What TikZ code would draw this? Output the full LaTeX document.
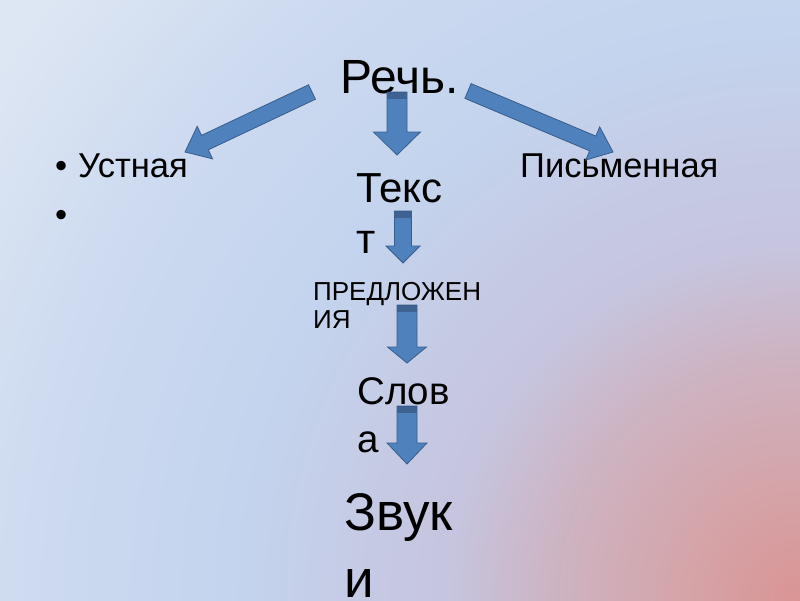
\documentclass[tikz,border=0pt]{standalone}
\usepackage{fontspec}
\setmainfont{Liberation Sans}
\usetikzlibrary{calc}
\definecolor{bgpink}{RGB}{218,148,148}
\definecolor{bgrose}{RGB}{212,165,170}
\definecolor{bgmauve}{RGB}{205,180,195}
\definecolor{bglilac}{RGB}{198,196,222}
\definecolor{bgblue}{RGB}{196,212,238}
\definecolor{bgpale}{RGB}{205,218,240}
\definecolor{bglight}{RGB}{221,230,243}
\definecolor{arrowfill}{RGB}{79,129,189}
\definecolor{arrowline}{RGB}{56,93,138}
\definecolor{arrowtop}{RGB}{62,98,145}
% 25bp is the radius of the shaded circle
\pgfdeclareradialshading{slidebg}{\pgfpoint{0bp}{0bp}}{%
  color(0bp)=(bgpink); color(3.1bp)=(bgrose); color(6.25bp)=(bgmauve);
  color(8.75bp)=(bglilac); color(14.25bp)=(bgblue); color(19.25bp)=(bgpale);
  color(24bp)=(bglight); color(50bp)=(bglight)}
% block arrow from tail to tip: #1 tail, #2 tip, #3 half shaft, #4 half head, #5 head length
\newcommand{\blockarrow}[5]{%
  \coordinate (#1-h) at ($(#2)!#5!(#1)$);
  \filldraw[barrow] ($(#1)!#3!90:(#2)$) -- ($(#1-h)!#3!90:(#2)$)
    -- ($(#1-h)!#4!90:(#2)$) -- (#2) -- ($(#1-h)!#4!-90:(#2)$)
    -- ($(#1-h)!#3!-90:(#2)$) -- ($(#1)!#3!-90:(#2)$) -- cycle;
}
% darker band at the top of a down arrow
\newcommand{\arrowband}[3]{%
  \coordinate (#1-c) at ($(#1)!7pt!(#2)$);
  \fill[arrowtop] ($(#1)!#3!90:(#2)$) -- ($(#1-c)!#3!90:(#2)$)
    -- ($(#1-c)!#3!-90:(#2)$) -- ($(#1)!#3!-90:(#2)$) -- cycle;
  \draw[arrowline, line width=0.8pt] ($(#1)!#3!90:(#2)$) -- ($(#1)!#3!-90:(#2)$);
}
\begin{document}
\begin{tikzpicture}[x=1pt, y=-1pt,
  barrow/.style={fill=arrowfill, draw=arrowline, line width=0.8pt, line join=miter},
  word/.style={anchor=base west, inner sep=0pt, align=left, text=black}
]
\useasboundingbox (0,0) rectangle (800,600);
\begin{scope}
  \clip (0,0) rectangle (800,600);
  \shade[shading=slidebg] (800,600) circle (1000);
\end{scope}
% texts (multi-line nodes sit on their last line)
\node[word, font=\fontsize{48}{58}\selectfont] (speech) at (340,93) {Речь.};
\node[word, font=\fontsize{34.5}{49}\selectfont] (oral) at (78,177) {Устная};
\node[word, font=\fontsize{34.5}{49}\selectfont] (dot1) at (55,177) {•};
\node[word, font=\fontsize{34.5}{49}\selectfont] (dot2) at (55,226) {•};
\node[word, font=\fontsize{34.5}{49}\selectfont] (written) at (520,177) {Письменная};
\node[word, font=\fontsize{42}{51}\selectfont] (text) at (356,253) {Текс\\т};
\node[word, font=\fontsize{26}{28}\selectfont] (sent) at (313,328) {ПРЕДЛОЖЕН\\ИЯ};
\node[word, font=\fontsize{38.5}{48}\selectfont] (words) at (357,452) {Слов\\а};
\node[word, font=\fontsize{53}{67}\selectfont] (sounds) at (344,597) {Звук\\и};
% arrow ends
\coordinate (aL) at (312,92);   \coordinate (aLt) at (185,152);
\coordinate (aR) at (468,91);   \coordinate (aRt) at (613,152);
\coordinate (a1) at (397,92);   \coordinate (a1t) at (397,155);
\coordinate (a2) at (403,211);  \coordinate (a2t) at (403,263);
\coordinate (a3) at (407,305);  \coordinate (a3t) at (407,363);
\coordinate (a4) at (407,406);  \coordinate (a4t) at (407,464);
% arrows
\blockarrow{aL}{aLt}{8pt}{18pt}{22pt}
\blockarrow{aR}{aRt}{8pt}{18pt}{22pt}
\blockarrow{a1}{a1t}{10pt}{23.5pt}{23pt}
\arrowband{a1}{a1t}{10pt}
\blockarrow{a2}{a2t}{8.5pt}{17pt}{17pt}
\arrowband{a2}{a2t}{8.5pt}
\blockarrow{a3}{a3t}{10pt}{19.5pt}{16pt}
\arrowband{a3}{a3t}{10pt}
\blockarrow{a4}{a4t}{10pt}{20pt}{21pt}
\arrowband{a4}{a4t}{10pt}
\end{tikzpicture}
\end{document}
